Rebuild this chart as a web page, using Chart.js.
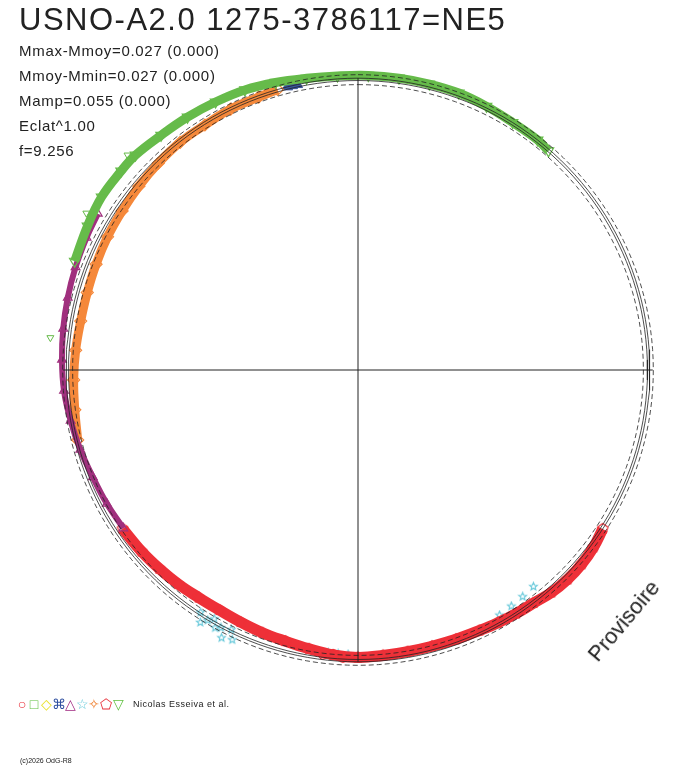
<!DOCTYPE html>
<html><head><meta charset="utf-8">
<script src="https://cdn.jsdelivr.net/npm/chart.js"></script>
<style>
body{margin:0;background:#fff;font-family:"Liberation Sans",Arial,sans-serif;}
#wrap{position:relative;width:688px;height:768px;}
canvas{position:absolute;left:0;top:0;}
.t{position:absolute;color:#222;white-space:nowrap;}
.s{display:inline-block;width:12px;text-align:center;}
</style></head><body>
<div id="wrap">
<canvas id="c" width="688" height="768"></canvas>
<div class="t" style="left:19px;top:2px;font-size:31px;letter-spacing:1.5px;">USNO-A2.0 1275-3786117=NE5</div>
<div class="t" style="left:19px;top:42px;font-size:15px;letter-spacing:0.7px;">Mmax-Mmoy=0.027 (0.000)</div>
<div class="t" style="left:19px;top:67px;font-size:15px;letter-spacing:0.7px;">Mmoy-Mmin=0.027 (0.000)</div>
<div class="t" style="left:19px;top:92px;font-size:15px;letter-spacing:0.7px;">Mamp=0.055 (0.000)</div>
<div class="t" style="left:19px;top:117px;font-size:15px;letter-spacing:0.7px;">Eclat^1.00</div>
<div class="t" style="left:19px;top:142px;font-size:15px;letter-spacing:0.7px;">f=9.256</div>
<div class="t" style="left:16px;top:696px;font-size:14px;"><span class="s" style="color:#e8303a">○</span><span class="s" style="color:#60c040">□</span><span class="s" style="color:#e8e020">◇</span><span class="s" style="color:#3050a0">⌘</span><span class="s" style="color:#a02880">△</span><span class="s" style="color:#60c8d8">☆</span><span class="s" style="color:#f08030">✧</span><span class="s" style="color:#e8303a">⬠</span><span class="s" style="color:#60c040">▽</span></div>
<div class="t" style="left:133px;top:699px;font-size:9px;letter-spacing:0.5px;">Nicolas Esseiva et al.</div>
<div class="t" style="left:20px;top:757px;font-size:7px;">(c)2026 OdG-R8</div>
<div class="t" style="left:575px;top:608px;font-size:22px;transform:rotate(-50deg);transform-origin:center;">Provisoire</div>
</div>
<script>
// angles: degrees clockwise from top (phase); radii: relative to mean circle
const greenA=[-69,-62,-56,-50,-46,-40,-34,-28,-22,-16,-10,-4,2,8,14,20,26,32,38,41];
const greenR=[1.04,1.05,1.06,1.06,1.06,1.05,1.045,1.04,1.035,1.025,1.015,1.01,1.01,1.01,1.01,1.01,1.005,1.0,1.0,0.995];
const greenStrayA=[-84,-60,-47];
const greenStrayR=[1.06,1.075,1.08];
const orangeA=[-16,-20,-26,-32,-38,-44,-50,-56,-62,-68,-74,-80,-86,-92,-98,-104];
const orangeR=[1.0,0.995,0.995,0.99,0.99,0.985,0.98,0.975,0.972,0.968,0.965,0.965,0.97,0.975,0.98,0.99];
const purpleA=[-59,-64,-70,-76,-82,-88,-94,-100,-106,-112,-118,-124];
const purpleR=[1.04,1.035,1.03,1.025,1.02,1.015,1.01,1.0,0.99,0.98,0.975,0.97];
const redA=[123,127,131,135,139,143,147,151,155,160,165,170,175,180,185,190,195,200,205,210,215,220,225,230,236];
const redR=[1.0,1.01,1.015,1.015,1.01,1.0,0.995,0.99,0.985,0.982,0.98,0.98,0.982,0.985,0.98,0.97,0.962,0.958,0.953,0.95,0.952,0.958,0.963,0.968,0.973];
const cyanA=[141,144,147,150,182,184,186,188,205,206,207,208,209,210,211,212,213];
const cyanR=[0.955,0.96,0.965,0.97,0.975,0.975,0.975,0.975,1.02,0.99,1.03,1.0,1.01,0.985,1.0,1.02,0.99];
const blueA=[-14,-13,-12];
const blueR=[1.0,1.0,1.0];
const redCircA=[183,185,187];
const redCircR=[0.99,0.975,0.985];
const guideR=[0.978,0.992,1.0,1.012];

const toXY=(A,R)=>A.map((a,i)=>({x:R[i]*Math.sin(a*Math.PI/180),y:R[i]*Math.cos(a*Math.PI/180)}));
function shape(kind,color,size){
  const c=document.createElement('canvas');c.width=c.height=size;const g=c.getContext('2d');
  g.strokeStyle=color;g.lineWidth=1.2;g.beginPath();
  const cx=size/2,cy=size/2,r=size/2-1.5;
  if(kind==='pent'){for(let k=0;k<5;k++){const t=-Math.PI/2+k*2*Math.PI/5;g.lineTo(cx+r*Math.cos(t),cy+r*Math.sin(t));}}
  else{for(let k=0;k<10;k++){const t=-Math.PI/2+k*Math.PI/5;const rr=k%2?r*0.45:r;g.lineTo(cx+rr*Math.cos(t),cy+rr*Math.sin(t));}}
  g.closePath();g.stroke();return c;
}
const RED='#ee3038',GREEN='#66bb4a',ORANGE='#f5883a',PURPLE='#a0307e',CYAN='#6ccadb',BLUE='#3a55a0';
const band=(label,A,R,col,w,style,rot,pr)=>({label,data:toXY(A,R),showLine:true,borderColor:col,borderWidth:w,tension:0.4,
  pointStyle:style,pointRotation:rot||0,rotation:rot||0,pointRadius:pr||6,pointBorderColor:col,pointBackgroundColor:'rgba(0,0,0,0)',pointBorderWidth:1.2});
const guides=guideR.map((r,i)=>({type:'line',data:Array.from({length:181},(_,k)=>({x:r*Math.sin(k*2*Math.PI/180),y:r*Math.cos(k*2*Math.PI/180)})),
  borderColor:'#222',borderWidth:0.8,borderDash:(i%3===0)?[5,3]:[],pointRadius:0,showLine:true}));
new Chart(document.getElementById('c'),{type:'scatter',
 data:{datasets:[
  ...guides,
  {data:[{x:-1.01,y:0},{x:1.01,y:0}],showLine:true,borderColor:'#222',borderWidth:1,pointRadius:0},
  {data:[{x:0,y:-1.0},{x:0,y:1.0}],showLine:true,borderColor:'#222',borderWidth:1,pointRadius:0},
  band('green',greenA,greenR,GREEN,9,'triangle',180,6),
  {data:toXY(greenStrayA,greenStrayR),pointStyle:'triangle',rotation:180,pointRadius:4,pointBorderColor:GREEN,pointBackgroundColor:'rgba(0,0,0,0)'},
  band('purple',purpleA,purpleR,PURPLE,6,'triangle',0,5),
  band('orange',orangeA,orangeR,ORANGE,9,'rectRot',0,6),
  band('red',redA,redR,RED,11,shape('pent',RED,14),0,7),
  {data:toXY(redCircA,redCircR),pointStyle:'circle',pointRadius:4,pointBorderColor:RED,pointBackgroundColor:'rgba(0,0,0,0)'},
  {data:toXY(cyanA,cyanR),pointStyle:shape('star',CYAN,11),pointRadius:5},
  {data:toXY(blueA,blueR),pointStyle:'triangle',pointRadius:6,pointBorderColor:BLUE,pointBackgroundColor:BLUE}
 ]},
 options:{responsive:false,animation:false,devicePixelRatio:1,
  layout:{padding:{left:37,right:9,top:49,bottom:77}},
  plugins:{legend:{display:false},tooltip:{enabled:false}},
  scales:{x:{type:'linear',min:-1.1,max:1.1,display:false},y:{type:'linear',min:-1.1,max:1.1,display:false}}}
});
</script></body></html>
